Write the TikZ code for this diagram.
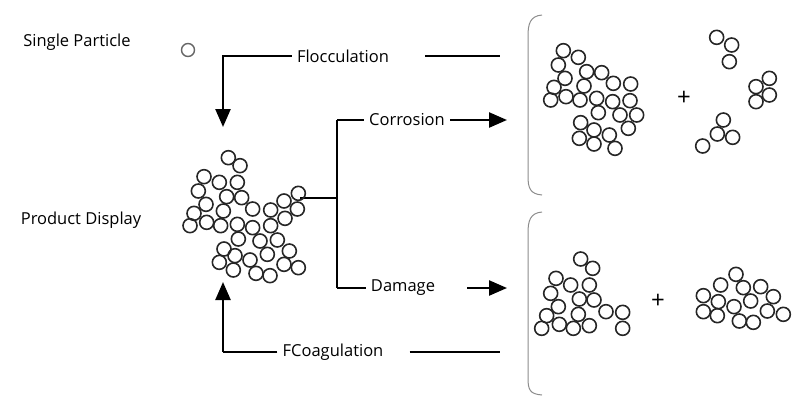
\documentclass[tikz,border=0pt]{standalone}
\usepackage{fontspec}
\setmainfont{Open Sans}
\usetikzlibrary{positioning, arrows.meta}
\begin{document}
\begin{tikzpicture}[
    x=1pt, y=-1pt,
    label/.style={font=\fontsize{16.5}{18}\selectfont, inner xsep=5pt, inner ysep=1pt},
    plus/.style={font=\fontsize{24}{24}\selectfont, inner sep=0pt},
    conn/.style={line width=2.4pt},
    arrow/.style={conn, -{Triangle[length=18pt,width=15pt]}},
    bead/.style={line width=1.6pt, draw=black!85},
    brace/.style={line width=1pt, draw=black!45},
]
\useasboundingbox (0,0) rectangle (800,408);

% labels
\node[label] (single) at (77,42) {Single Particle};
\node[label] (product) at (81,220) {Product Display};
\node[label] (floc) at (343,56) {Flocculation};
\node[label] (corr) at (407,120) {Corrosion};
\node[label] (dmg) at (403,288) {Damage};
\node[label] (coag) at (333,352) {FCoagulation};
\node[plus] (plusA) at (684,98) {+};
\node[plus] (plusB) at (658,301) {+};

\draw[bead, line width=1.4pt, draw=black!60] (188,50) circle (6.5);

% connectors
\coordinate (flocL) at (223,57);
\coordinate (flocR) at (500,57);
\coordinate (flocE) at (223,127);
\coordinate (coagL) at (223,352);
\coordinate (coagR) at (500,352);
\coordinate (coagE) at (223,282);
\coordinate (hub) at (300,198);
\coordinate (split) at (337,198);
\coordinate (splitT) at (337,120);
\coordinate (splitB) at (337,288);
\coordinate (corrE) at (507,120);
\coordinate (dmgE) at (507,288);

\draw[conn] (floc.west) -- (flocL |- floc.west) -- (flocL);
\draw[arrow] (flocL) -- (flocE);
\draw[conn] ([xshift=31pt]floc.east) -- (flocR |- floc.east);
\draw[conn] (coag.west) -- (coagL);
\draw[arrow] (coagL) -- (coagE);
\draw[conn] ([xshift=21pt]coag.east) -- (coagR |- coag.east);
\draw[conn] (hub) -- (split);
\draw[conn] (splitT) -- (splitB);
\draw[conn] (splitT) -- (corr.west);
\draw[conn] (splitB) -- (dmg.west);
\draw[arrow] (corr.east) -- (corrE |- corr.east);
\draw[arrow] ([xshift=27pt]dmg.east) -- (dmgE |- dmg.east);

% brackets
\draw[brace] (542,15) .. controls (530,16) and (528,24) .. (528,36) -- (528,176) .. controls (528,188) and (530,194) .. (542,195);
\draw[brace] (542,212) .. controls (530,213) and (528,221) .. (528,233) -- (528,378) .. controls (528,390) and (530,394) .. (542,395);

% particle clusters
\begin{scope}[shift={(180,145)}]
\foreach \px/\py in {145/38,180/62,72/95,118/112,172/112,55/138,140/155,185/158,78/178,218/192,130/198,272/195,312/168,355/145,352/192,42/205,80/232,122/242,172/238,218/248,272/242,315/220,30/242,175/282,240/288,292/285,132/312,165/332,210/345,262/328,328/318,118/352,160/375,228/385,270/392,312/358,355/368}
  \draw[bead] (\px/3,\py/3) circle (7);
\end{scope}

\begin{scope}[shift={(530,30)}]
\foreach \px/\py in {100/62,145/82,85/105,105/145,170/125,215/128,250/160,302/162,72/172,162/168,108/200,62/210,150/210,200/205,248/215,300/212,205/248,270/255,320/255,152/278,192/300,295/295,238/315,148/325,192/342,255/355,560/22,605/45,598/95,718/145,678/170,718/195,678/215,580/270,562/312,608/322,518/348}
  \draw[bead] (\px/3,\py/3) circle (7);
\end{scope}

\begin{scope}[shift={(530,245)}]
\foreach \px/\py in {152/42,188/70,78/100,122/120,178/120,62/145,148/162,192/165,85/185,228/200,278/202,145/208,50/212,88/238,130/250,178/242,35/250,278/250,618/88,572/120,640/128,692/125,520/152,565/170,662/168,730/155,612/185,520/200,562/212,712/198,760/208,628/228,670/232}
  \draw[bead] (\px/3,\py/3) circle (7);
\end{scope}
\end{tikzpicture}
\end{document}
